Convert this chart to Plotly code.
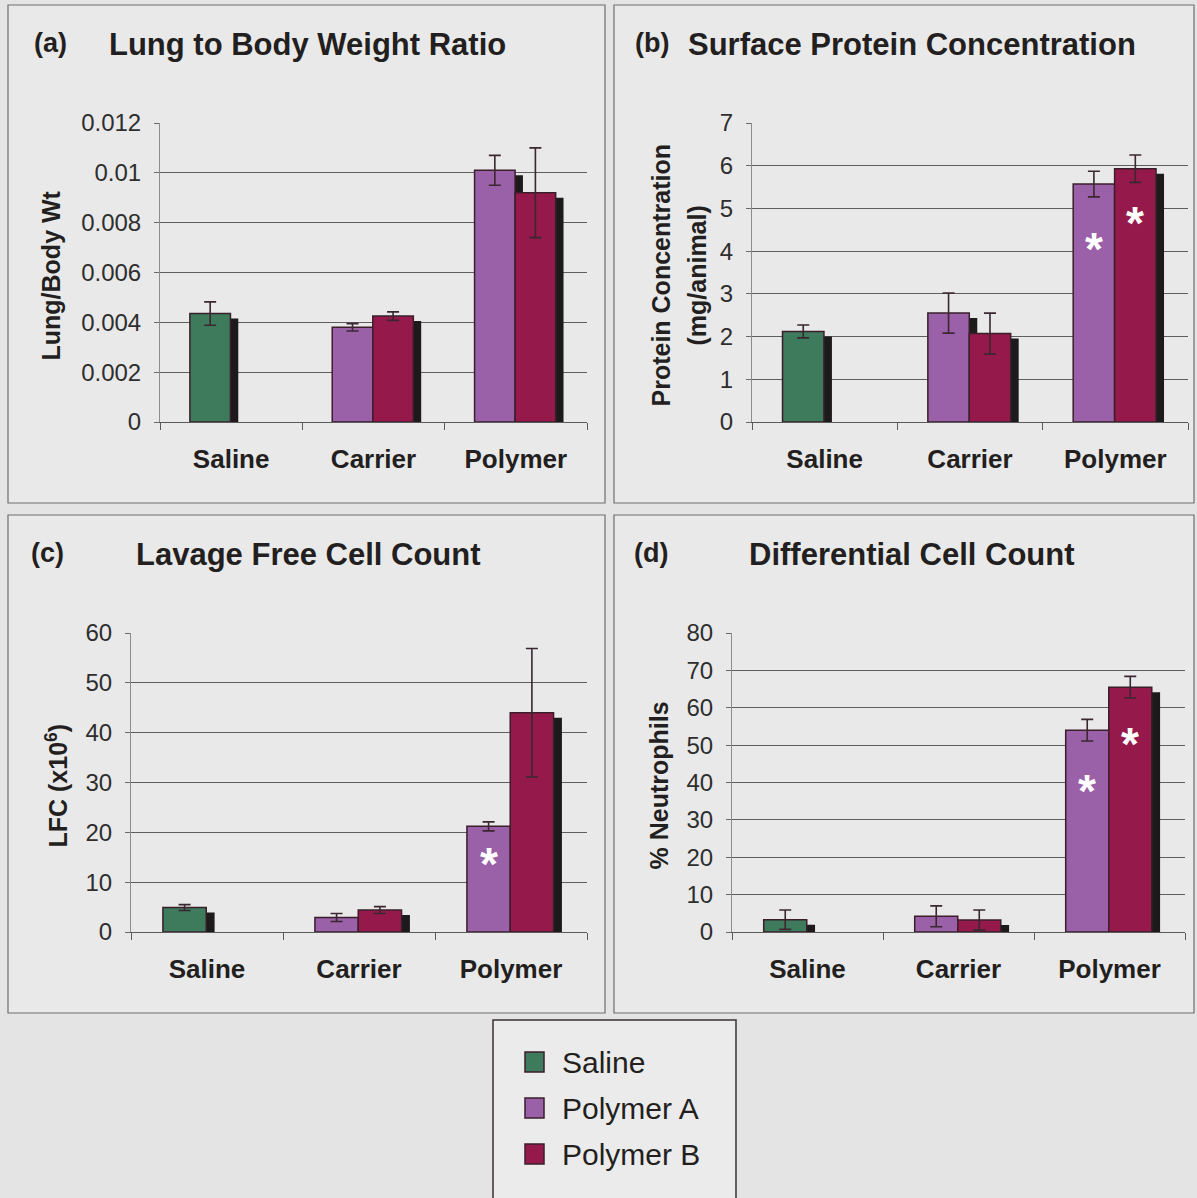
import plotly.graph_objects as go

# ---- data -------------------------------------------------------------
CATEGORIES = ["Saline", "Carrier", "Polymer"]
SERIES = ["Saline", "Polymer A", "Polymer B"]
SERIES_COLORS = ["#3d7b5c", "#9a60a8", "#951a4b"]

# (a) lung to body weight ratio
ratio_saline = [0.00435, None, None]
ratio_saline_err = [0.00047, None, None]
ratio_poly_a = [None, 0.0038, 0.0101]
ratio_poly_a_err = [None, 0.00015, 0.0006]
ratio_poly_b = [None, 0.00425, 0.0092]
ratio_poly_b_err = [None, 0.00017, 0.0018]

# (b) surface protein concentration (mg/animal)
protein_saline = [2.12, None, None]
protein_saline_err = [0.15, None, None]
protein_poly_a = [None, 2.55, 5.57]
protein_poly_a_err = [None, 0.47, 0.30]
protein_poly_b = [None, 2.07, 5.93]
protein_poly_b_err = [None, 0.48, 0.32]

# (c) lavage free cell count (x10^6)
lfc_saline = [4.9, None, None]
lfc_saline_err = [0.6, None, None]
lfc_poly_a = [None, 2.9, 21.2]
lfc_poly_a_err = [None, 0.8, 0.9]
lfc_poly_b = [None, 4.4, 44.0]
lfc_poly_b_err = [None, 0.7, 12.9]

# (d) differential cell count (% neutrophils)
neut_saline = [3.3, None, None]
neut_saline_err = [2.6, None, None]
neut_poly_a = [None, 4.2, 54.0]
neut_poly_a_err = [None, 2.8, 2.9]
neut_poly_b = [None, 3.2, 65.5]
neut_poly_b_err = [None, 2.7, 2.9]

# significance markers: height of the asterisk inside each bar (None = none)
protein_star_a = [None, None, 4.2]
protein_star_b = [None, None, 4.8]
lfc_star_a = [None, None, 14.9]
lfc_star_b = [None, None, None]
neut_star_a = [None, None, 39.3]
neut_star_b = [None, None, 51.9]

FONT = "Liberation Sans, Arial, sans-serif"
W, H = 1197, 1198

panels = [
    dict(letter="(a)", title="Lung to Body Weight Ratio",
         ytitle=["Lung/Body Wt"], ymax=0.012, dtick=0.002,
         series=[(ratio_saline, ratio_saline_err), (ratio_poly_a, ratio_poly_a_err),
                 (ratio_poly_b, ratio_poly_b_err)],
         stars=[None, None, None],
         box=(160, 587, 123, 422), frame=(8, 605, 5, 503),
         letter_x=50, title_x=307, title_y=45, ytitle_x=[51]),
    dict(letter="(b)", title="Surface Protein Concentration",
         ytitle=["Protein Concentration", "(mg/animal)"], ymax=7, dtick=1,
         series=[(protein_saline, protein_saline_err), (protein_poly_a, protein_poly_a_err),
                 (protein_poly_b, protein_poly_b_err)],
         stars=[None, protein_star_a, protein_star_b],
         box=(752, 1188, 123, 422), frame=(614, 1194, 5, 503),
         letter_x=652, title_x=912, title_y=45, ytitle_x=[661, 697]),
    dict(letter="(c)", title="Lavage Free Cell Count",
         ytitle=["LFC (x10<sup>6</sup>)"], ymax=60, dtick=10,
         series=[(lfc_saline, lfc_saline_err), (lfc_poly_a, lfc_poly_a_err),
                 (lfc_poly_b, lfc_poly_b_err)],
         stars=[None, lfc_star_a, lfc_star_b],
         box=(131, 587, 633, 932), frame=(8, 605, 515, 1013),
         letter_x=47, title_x=308, title_y=555, ytitle_x=[56]),
    dict(letter="(d)", title="Differential Cell Count",
         ytitle=["% Neutrophils"], ymax=80, dtick=10,
         series=[(neut_saline, neut_saline_err), (neut_poly_a, neut_poly_a_err),
                 (neut_poly_b, neut_poly_b_err)],
         stars=[None, neut_star_a, neut_star_b],
         box=(732, 1185, 633, 932), frame=(614, 1194, 515, 1013),
         letter_x=651, title_x=912, title_y=555, ytitle_x=[658]),
]

BAR_W = 0.285
OFFSETS = [-0.29, -0.29, -0.005]   # Saline and Polymer A share the left slot
SHADOW_SHIFT = 0.055
OUTLINE = "#3a1f2b"

fig = go.Figure()
shapes, annotations = [], []


def px_x(v):
    return v / W


def px_y(v):
    return 1 - v / H


for i, p in enumerate(panels):
    n = "" if i == 0 else str(i + 1)
    xa, ya = "x" + n, "y" + n
    x0, x1, y0, y1 = p["box"]
    drop = p["ymax"] * 5 / (y1 - y0)

    # drop shadows behind every bar
    for (vals, _), off in zip(p["series"], OFFSETS):
        shadow = [None if v is None else max(v - drop, 0) for v in vals]
        fig.add_trace(go.Bar(
            x=CATEGORIES, y=shadow, xaxis=xa, yaxis=ya, width=BAR_W,
            offset=off + SHADOW_SHIFT, marker=dict(color="#1c1a1b", line=dict(width=0)),
            showlegend=False, hoverinfo="skip"))

    # bars with error bars
    for (vals, errs), off, name, col in zip(p["series"], OFFSETS, SERIES, SERIES_COLORS):
        fig.add_trace(go.Bar(
            x=CATEGORIES, y=vals, xaxis=xa, yaxis=ya, width=BAR_W, offset=off, name=name,
            marker=dict(color=col, line=dict(color=OUTLINE, width=1.5)),
            error_y=dict(type="data", array=errs, visible=True, color="#3a2730",
                         thickness=1.6, width=6),
            showlegend=False))

    # white significance asterisks, centred on their bars
    for stars, off in zip(p["stars"], OFFSETS):
        if stars is None:
            continue
        for ci, s in enumerate(stars):
            if s is None:
                continue
            annotations.append(dict(
                text="*", xref=xa, yref=ya, x=ci + off + BAR_W / 2, y=s,
                showarrow=False, xanchor="center", yanchor="middle", yshift=-6,
                font=dict(family=FONT, size=46, color="white", weight="bold")))

    fig.update_layout(**{
        ("xaxis" + n): dict(
            domain=[px_x(x0), px_x(x1)], anchor=ya, type="category",
            categoryorder="array", categoryarray=CATEGORIES, range=[-0.5, 2.5],
            showline=True, linecolor="#5a5a5a", linewidth=1.2,
            ticks="outside", tickson="boundaries", ticklen=7, tickcolor="#5a5a5a",
            showgrid=False, ticklabelstandoff=14, automargin=False,
            tickfont=dict(family=FONT, size=26, color="#231f20", weight="bold")),
        ("yaxis" + n): dict(
            domain=[px_y(y1), px_y(y0)], anchor=xa, range=[0, p["ymax"]],
            dtick=p["dtick"], tick0=0, showgrid=True, gridcolor="#5e5e5e", gridwidth=1,
            showline=True, linecolor="#8c8c8c", linewidth=1, zeroline=False,
            ticks="outside", ticklen=5, tickcolor="#6a6a6a", ticklabelstandoff=8,
            automargin=False,
            tickfont=dict(family=FONT, size=24, color="#2e2e2e")),
    })

    fx0, fx1, fy0, fy1 = p["frame"]
    shapes.append(dict(type="rect", xref="paper", yref="paper", layer="below",
                       x0=px_x(fx0), x1=px_x(fx1), y0=px_y(fy1), y1=px_y(fy0),
                       fillcolor="#e9e9e9", line=dict(color="#6e6e6e", width=1.2)))
    annotations.append(dict(text=p["letter"], xref="paper", yref="paper",
                            x=px_x(p["letter_x"]), y=px_y(p["title_y"] - 2), showarrow=False,
                            xanchor="center", yanchor="middle",
                            font=dict(family=FONT, size=27, color="#231f20", weight="bold")))
    annotations.append(dict(text=p["title"], xref="paper", yref="paper",
                            x=px_x(p["title_x"]), y=px_y(p["title_y"]), showarrow=False,
                            xanchor="center", yanchor="middle",
                            font=dict(family=FONT, size=31, color="#231f20", weight="bold")))
    for line, lx in zip(p["ytitle"], p["ytitle_x"]):
        annotations.append(dict(text=line, xref="paper", yref="paper", textangle=-90,
                                x=px_x(lx), y=px_y((y0 + y1) / 2 + 3), showarrow=False,
                                xanchor="center", yanchor="middle",
                                font=dict(family=FONT, size=25, color="#231f20", weight="bold")))

# legend box drawn by hand so the swatches can be large
shapes.append(dict(type="rect", xref="paper", yref="paper",
                   x0=px_x(493), x1=px_x(736), y0=px_y(1205), y1=px_y(1020),
                   fillcolor="#ebebeb", line=dict(color="#3a3030", width=1.5)))
for k, (name, col) in enumerate(zip(SERIES, SERIES_COLORS)):
    cy = 1062 + 46 * k
    shapes.append(dict(type="rect", xref="paper", yref="paper",
                       x0=px_x(525), x1=px_x(544), y0=px_y(cy + 10), y1=px_y(cy - 10),
                       fillcolor=col, line=dict(color=OUTLINE, width=1.5)))
    annotations.append(dict(text=name, xref="paper", yref="paper",
                            x=px_x(560), y=px_y(cy), showarrow=False,
                            xanchor="left", yanchor="middle",
                            font=dict(family=FONT, size=30, color="#231f20")))

fig.update_layout(
    width=W, height=H, margin=dict(l=0, r=0, t=0, b=0, autoexpand=False),
    paper_bgcolor="#e4e4e4", plot_bgcolor="rgba(0,0,0,0)",
    barmode="overlay", showlegend=False,
    shapes=shapes, annotations=annotations,
    font=dict(family=FONT),
)

fig.write_html("out.html")
